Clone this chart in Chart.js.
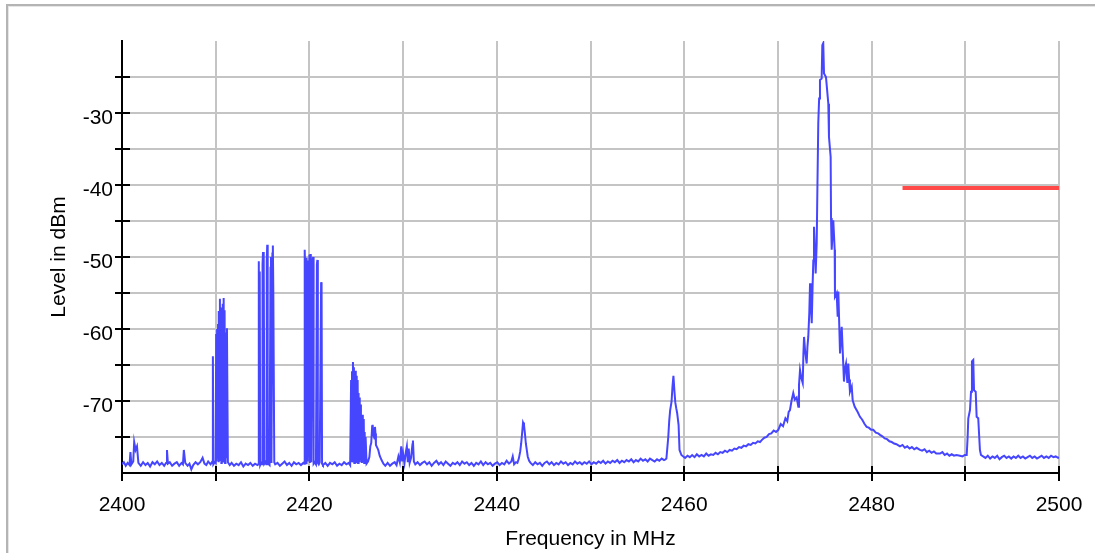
<!DOCTYPE html>
<html>
<head>
<meta charset="utf-8">
<script src="https://cdn.jsdelivr.net/npm/chart.js@4.4.1/dist/chart.umd.min.js"></script>
<style>
  html, body { margin: 0; padding: 0; background: #fff; overflow: hidden; }
  #frame { position: absolute; left: 6px; top: 4px; width: 1200px; height: 700px;
           border: 2px solid #b4b4b4; box-shadow: inset 1px 1px 0 #e6e6e6; }
  #wrap { position: absolute; left: 0; top: 0; width: 1095px; height: 553px; }
</style>
</head>
<body>
<div id="frame"></div>
<div id="wrap"><canvas id="c" width="1095" height="553"></canvas></div>
<script>
// spectrum trace, [frequency MHz, level dBm]
const floor2400 = [
  [2400.0,-78.8],[2400.2,-78.5],[2400.4,-79.0],[2400.6,-78.6],[2400.8,-78.9],[2400.9,-77.1],
  [2401.0,-78.8],[2401.2,-78.4],[2401.3,-75.7],[2401.45,-76.8],[2401.6,-76.3],[2401.75,-78.6],
  [2402.0,-79.0],[2402.25,-78.5],[2402.5,-78.9],[2402.75,-78.6],[2403.0,-79.1],[2403.25,-78.5],
  [2403.5,-78.8],[2403.75,-78.4],[2404.0,-78.9],[2404.25,-78.6],[2404.5,-79.0],[2404.7,-78.6],
  [2404.8,-76.8],[2404.9,-78.7],[2405.1,-78.5],[2405.35,-79.0],[2405.6,-78.7],[2405.85,-78.5],
  [2406.1,-79.0],[2406.35,-78.6],[2406.5,-78.8],[2406.6,-76.8],[2406.75,-78.6],[2407.0,-79.0],
  [2407.2,-78.7],[2407.4,-79.5],[2407.6,-78.9],[2407.85,-78.5],[2408.1,-78.8],[2408.35,-78.5],
  [2408.6,-77.9],[2408.8,-78.7],[2409.0,-78.9],[2409.2,-78.4],[2409.45,-78.8],[2409.6,-78.5]
];
const burst2410 = [
  [2409.65,-78.6],[2409.7,-63.8],[2409.75,-78.8],[2409.9,-78.5],[2410.0,-78.6],[2410.05,-60.7],
  [2410.1,-78.4],[2410.15,-60.0],[2410.2,-78.0],[2410.25,-59.3],[2410.3,-78.5],[2410.35,-57.5],
  [2410.4,-77.5],[2410.45,-55.8],[2410.5,-78.2],[2410.55,-57.0],[2410.6,-78.6],[2410.65,-58.2],
  [2410.7,-77.9],[2410.75,-56.5],[2410.8,-78.4],[2410.85,-55.7],[2410.9,-78.0],[2410.95,-57.4],
  [2411.0,-78.6],[2411.05,-60.5],[2411.1,-77.8],[2411.2,-59.9],[2411.3,-78.5],[2411.5,-78.9]
];
const floor2412 = [
  [2411.7,-78.6],[2411.95,-79.0],[2412.2,-78.7],[2412.45,-78.9],[2412.7,-78.5],[2412.95,-79.1],
  [2413.2,-78.7],[2413.45,-78.9],[2413.7,-78.6],[2413.95,-79.0],[2414.2,-78.7],[2414.45,-78.9]
];
const burst2415 = [
  [2414.55,-78.8],[2414.6,-50.6],[2414.65,-78.5],[2414.7,-52.0],[2414.75,-78.9],[2414.85,-78.6],
  [2414.95,-78.8],[2415.0,-51.0],[2415.05,-49.3],[2415.1,-78.6],[2415.15,-50.2],[2415.2,-78.7],
  [2415.3,-78.5],[2415.4,-78.8],[2415.45,-50.5],[2415.5,-48.3],[2415.55,-78.4],[2415.6,-78.7],
  [2415.75,-78.9],[2415.85,-51.5],[2415.9,-50.0],[2415.95,-78.6],[2416.05,-49.5],[2416.1,-48.4],
  [2416.15,-55.0],[2416.25,-78.5],[2416.35,-78.8]
];
const floor2417 = [
  [2416.6,-78.6],[2416.85,-79.0],[2417.1,-78.7],[2417.35,-78.4],[2417.6,-78.9],[2417.85,-78.6],
  [2418.1,-79.0],[2418.35,-78.5],[2418.6,-78.8],[2418.85,-78.6],[2419.1,-78.9],[2419.35,-78.6]
];
const burst2420 = [
  [2419.45,-78.7],[2419.5,-49.0],[2419.55,-52.0],[2419.6,-78.5],[2419.65,-50.1],[2419.7,-78.8],
  [2419.75,-51.5],[2419.8,-78.4],[2419.85,-50.5],[2419.9,-77.8],[2420.0,-49.7],[2420.05,-78.6],
  [2420.1,-49.6],[2420.15,-55.0],[2420.2,-78.5],[2420.3,-50.8],[2420.4,-50.0],[2420.45,-78.7],
  [2420.55,-78.5],[2420.7,-78.8],[2420.8,-51.0],[2420.85,-50.4],[2420.9,-78.6],[2421.0,-78.8],
  [2421.1,-78.5],[2421.25,-53.5],[2421.3,-54.0],[2421.35,-78.7],[2421.45,-78.9]
];
const floor2422 = [
  [2421.7,-78.6],[2421.95,-79.0],[2422.2,-78.6],[2422.45,-78.8],[2422.7,-78.5],[2422.95,-79.0],
  [2423.2,-78.7],[2423.45,-78.9],[2423.7,-78.5],[2423.95,-78.8],[2424.2,-78.6],[2424.35,-78.9]
];
const burst2425 = [
  [2424.45,-67.1],[2424.5,-78.5],[2424.55,-66.0],[2424.65,-64.6],[2424.7,-78.4],[2424.75,-65.3],
  [2424.8,-78.6],[2424.85,-66.1],[2424.9,-78.0],[2424.95,-65.8],[2425.0,-78.5],[2425.05,-66.5],
  [2425.1,-78.2],[2425.15,-67.1],[2425.2,-78.6],[2425.25,-68.9],[2425.3,-78.0],[2425.35,-69.5],
  [2425.4,-78.5],[2425.45,-70.5],[2425.5,-78.2],[2425.55,-71.9],[2425.6,-78.6],[2425.7,-71.9],
  [2425.75,-78.4],[2425.8,-72.5],[2425.85,-78.6],[2425.9,-74.3],[2425.95,-78.3],[2426.0,-75.0],
  [2426.1,-78.7]
];
const bump2427 = [
  [2426.25,-78.4],[2426.4,-77.8],[2426.5,-76.3],[2426.6,-75.8],[2426.7,-73.5],[2426.75,-73.3],
  [2426.85,-74.8],[2426.95,-75.2],[2427.0,-73.6],[2427.05,-74.5],[2427.1,-76.1],[2427.25,-76.5],
  [2427.35,-76.8],[2427.5,-77.6],[2427.7,-78.2],[2427.9,-78.7]
];
const floor2429 = [
  [2428.1,-79.0],[2428.35,-78.6],[2428.6,-79.0],[2428.85,-78.7],[2429.1,-78.5],[2429.3,-78.9],
  [2429.5,-77.7],[2429.65,-78.5],[2429.8,-76.3],[2429.9,-78.4],[2430.0,-77.3],[2430.15,-78.6],
  [2430.3,-77.0],[2430.4,-76.3],[2430.5,-78.5],[2430.6,-76.6],[2430.7,-78.6],[2430.85,-77.9],
  [2431.0,-76.0],[2431.05,-75.5],[2431.15,-78.4],[2431.3,-78.8]
];
const floor2436 = [
  [2431.55,-78.5],[2431.8,-78.9],[2432.05,-78.6],[2432.3,-78.4],[2432.55,-78.8],[2432.8,-78.5],
  [2433.05,-79.0],[2433.3,-78.6],[2433.55,-78.3],[2433.8,-78.8],[2434.05,-78.5],[2434.3,-78.9],
  [2434.55,-78.4],[2434.8,-78.7],[2435.05,-79.0],[2435.3,-78.6],[2435.55,-78.8],[2435.8,-78.5],
  [2436.05,-78.9],[2436.3,-78.4],[2436.55,-78.7],[2436.8,-78.5],[2437.05,-78.9],[2437.3,-78.6],
  [2437.55,-79.0],[2437.8,-78.6],[2438.05,-78.8],[2438.3,-78.4],[2438.55,-78.9],[2438.8,-78.5],
  [2439.05,-78.8],[2439.3,-78.6],[2439.55,-79.0],[2439.8,-78.7],[2440.05,-78.5],[2440.3,-78.9],
  [2440.55,-78.6],[2440.8,-78.8],[2441.05,-78.3],[2441.3,-78.7],[2441.55,-78.4],[2441.7,-77.7],
  [2441.85,-78.8],[2442.05,-78.5],[2442.2,-78.6]
];
const peak2443 = [
  [2442.35,-78.0],[2442.5,-77.0],[2442.6,-75.9],[2442.7,-74.5],[2442.8,-73.0],[2442.9,-73.3],
  [2443.0,-74.5],[2443.1,-75.9],[2443.2,-76.8],[2443.3,-77.7],[2443.45,-78.3]
];
const floor2450 = [
  [2443.6,-78.6],[2443.85,-78.9],[2444.1,-78.5],[2444.35,-78.8],[2444.6,-78.6],[2444.85,-79.0],
  [2445.1,-78.6],[2445.35,-78.4],[2445.6,-78.8],[2445.85,-78.5],[2446.1,-78.9],[2446.35,-78.6],
  [2446.6,-78.8],[2446.85,-78.4],[2447.1,-78.7],[2447.35,-78.5],[2447.6,-78.9],[2447.85,-78.6],
  [2448.1,-78.8],[2448.35,-78.4],[2448.6,-78.7],[2448.85,-78.5],[2449.1,-78.8],[2449.35,-78.5],
  [2449.6,-78.7],[2449.85,-78.4],[2450.1,-78.8],[2450.35,-78.5],[2450.6,-78.7],[2450.85,-78.4],
  [2451.1,-78.6],[2451.35,-78.3],[2451.6,-78.7],[2451.85,-78.4],[2452.1,-78.6],[2452.35,-78.3],
  [2452.6,-78.5],[2452.85,-78.2],[2453.1,-78.6],[2453.35,-78.3],[2453.6,-78.5],[2453.85,-78.2],
  [2454.1,-78.4],[2454.35,-78.1],[2454.6,-78.5],[2454.85,-78.2],[2455.1,-78.4],[2455.35,-78.0],
  [2455.6,-78.3],[2455.85,-78.1],[2456.1,-78.4],[2456.35,-78.0],[2456.6,-78.2],[2456.85,-78.4],
  [2457.1,-78.1],[2457.35,-78.3],[2457.6,-78.0],[2457.85,-78.2],[2458.0,-78.1]
];
const peak2459 = [
  [2458.1,-78.0],[2458.2,-76.5],[2458.3,-75.0],[2458.4,-72.8],[2458.5,-71.3],[2458.65,-70.1],
  [2458.75,-68.0],[2458.85,-66.5],[2458.95,-68.5],[2459.05,-70.2],[2459.15,-71.0],[2459.25,-71.7],
  [2459.4,-73.3],[2459.5,-76.8],[2459.7,-77.5],[2459.9,-77.7]
];
const skirtLeft = [
  [2460.1,-77.9],[2460.35,-77.6],[2460.6,-77.8],[2460.85,-77.5],[2461.1,-77.8],[2461.35,-77.4],
  [2461.6,-77.7],[2461.85,-77.5],[2462.1,-77.7],[2462.35,-77.3],[2462.6,-77.6],[2462.85,-77.4],
  [2463.1,-77.5],[2463.35,-77.2],[2463.6,-77.4],[2463.85,-77.1],[2464.1,-77.2],[2464.35,-76.9],
  [2464.6,-77.1],[2464.85,-76.8],[2465.1,-76.9],[2465.35,-76.6],[2465.6,-76.7],[2465.85,-76.4],
  [2466.1,-76.5],[2466.35,-76.2],[2466.6,-76.3],[2466.85,-76.0],[2467.1,-76.1],[2467.35,-75.8],
  [2467.6,-75.9],[2467.85,-75.6],[2468.09,-75.7]
];
const carrier2475 = [
  [2468.3,-75.4],[2468.55,-75.1],[2468.8,-75.0],[2469.05,-74.6],[2469.3,-74.5],[2469.55,-74.1],
  [2469.8,-74.3],[2470.04,-74.0],[2470.3,-73.2],[2470.55,-73.5],[2470.8,-72.4],[2471.0,-72.8],
  [2471.15,-71.5],[2471.29,-71.25],[2471.45,-70.0],[2471.64,-68.9],[2471.8,-69.8],[2472.0,-69.5],
  [2472.18,-70.8],[2472.25,-67.8],[2472.36,-65.7],[2472.5,-66.8],[2472.65,-67.5],[2472.72,-63.5],
  [2472.79,-61.1],[2472.9,-63.0],[2473.07,-64.8],[2473.15,-62.5],[2473.24,-61.1],[2473.35,-57.8],
  [2473.43,-53.65],[2473.52,-56.5],[2473.61,-59.2],[2473.71,-53.65],[2473.78,-50.5],[2473.85,-45.8],
  [2473.95,-49.0],[2474.03,-52.3],[2474.14,-48.1],[2474.22,-40.0],[2474.31,-31.4],[2474.4,-28.0],
  [2474.49,-25.4],[2474.67,-25.2],[2474.74,-20.6],[2474.84,-20.3],[2474.92,-24.5],[2475.13,-25.0],
  [2475.38,-28.7],[2475.45,-33.3],[2475.63,-36.1],[2475.67,-44.6],[2475.74,-49.0],[2475.91,-44.9],
  [2476.06,-49.0],[2476.09,-55.5],[2476.27,-55.0],[2476.38,-58.3],[2476.45,-54.8],[2476.63,-63.4],
  [2476.81,-59.7],[2476.9,-62.5],[2477.05,-67.3],[2477.15,-65.5],[2477.27,-64.8],[2477.41,-67.5],
  [2477.51,-64.8],[2477.6,-67.0],[2477.69,-68.7],[2477.88,-68.0],[2477.98,-69.9],[2478.2,-70.8],
  [2478.5,-71.5],[2478.76,-72.2],[2479.0,-72.6],[2479.25,-73.2],[2479.47,-73.6],[2479.7,-73.7],
  [2479.95,-74.0],[2480.18,-74.0],[2480.45,-74.4],[2480.7,-74.5],[2480.9,-74.7],[2481.15,-74.9],
  [2481.4,-75.2],[2481.65,-75.3],[2481.9,-75.6],[2482.15,-75.7],[2482.4,-75.9],[2482.65,-76.0],
  [2482.9,-76.2]
];
const skirtRight = [
  [2483.03,-76.3],[2483.3,-76.1],[2483.55,-76.5],[2483.8,-76.3],[2484.05,-76.6],[2484.3,-76.4],
  [2484.55,-76.7],[2484.8,-76.5],[2485.16,-76.8],[2485.4,-76.9],[2485.65,-76.7],[2485.9,-77.1],
  [2486.15,-76.9],[2486.4,-77.2],[2486.65,-77.0],[2486.9,-77.3],[2487.3,-77.3],[2487.55,-77.1],
  [2487.8,-77.5],[2488.05,-77.3],[2488.3,-77.6],[2488.55,-77.4],[2488.8,-77.6],[2489.05,-77.5],
  [2489.43,-77.6],[2489.7,-77.7],[2489.95,-77.5],[2490.15,-77.5]
];
const peak2491 = [
  [2490.25,-75.0],[2490.32,-72.4],[2490.5,-71.25],[2490.61,-68.7],[2490.71,-64.5],[2490.85,-64.3],
  [2490.93,-68.5],[2491.11,-68.7],[2491.21,-72.2],[2491.38,-72.4],[2491.56,-76.8],[2491.67,-77.5]
];
const floor2496 = [
  [2491.9,-77.7],[2492.15,-77.9],[2492.4,-77.6],[2492.65,-78.0],[2492.9,-77.7],[2493.15,-77.9],
  [2493.4,-77.6],[2493.65,-78.1],[2493.9,-77.8],[2494.15,-77.6],[2494.4,-77.9],[2494.65,-77.7],
  [2494.9,-78.0],[2495.15,-77.7],[2495.4,-77.9],[2495.65,-77.6],[2495.9,-77.9],[2496.15,-77.7],
  [2496.4,-78.0],[2496.65,-77.8],[2496.9,-77.6],[2497.15,-77.9],[2497.4,-77.7],[2497.65,-78.0],
  [2497.9,-77.8],[2498.15,-77.6],[2498.4,-77.9],[2498.65,-77.7],[2498.9,-77.9],[2499.15,-77.6],
  [2499.4,-77.8],[2499.65,-77.7],[2499.9,-77.9],[2500.0,-77.8]
];

// red limit segment
const limitFreqs = [2483.3, 2500];
const limitLevels = [-40.4, -40.4];

const xMin = 2400, xMax = 2500, xStep = 10;
const yMin = -80, yMax = -20, yStep = 5;

const trace = [floor2400, burst2410, floor2412, burst2415, floor2417, burst2420, floor2422,
  burst2425, bump2427, floor2429, floor2436, peak2443, floor2450, peak2459, skirtLeft,
  carrier2475, skirtRight, peak2491, floor2496]
  .flat().map(([x, y]) => ({ x, y }));
const limit = limitFreqs.map((x, i) => ({ x, y: limitLevels[i] }));

const FONT = { family: '"Liberation Sans", Arial, sans-serif', size: 21 };

// tick marks that cross the axis line on both sides
const crossTicks = {
  id: 'crossTicks',
  afterDraw(chart) {
    const { ctx, chartArea: a, scales: { x, y } } = chart;
    ctx.save();
    ctx.strokeStyle = '#000';
    ctx.lineWidth = 2;
    ctx.beginPath();
    x.ticks.forEach(t => {
      const px = Math.round(x.getPixelForValue(t.value));
      ctx.moveTo(px, a.bottom - 7);
      ctx.lineTo(px, a.bottom + 8);
    });
    y.ticks.forEach(t => {
      if (t.value <= yMin || t.value >= yMax) return;
      const py = Math.round(y.getPixelForValue(t.value));
      ctx.moveTo(a.left - 7, py);
      ctx.lineTo(a.left + 8, py);
    });
    ctx.stroke();
    ctx.restore();
  }
};

new Chart(document.getElementById('c'), {
  type: 'line',
  data: {
    datasets: [
      { data: trace, borderColor: 'rgb(70,70,255)', borderWidth: 2, pointRadius: 0, tension: 0 },
      { data: limit, borderColor: 'rgb(255,72,72)', borderWidth: 4, pointRadius: 0, tension: 0 }
    ]
  },
  options: {
    responsive: false,
    animation: false,
    devicePixelRatio: 1,
    layout: { padding: { left: 0, top: 41, right: 36, bottom: 0 } },
    plugins: { legend: { display: false }, tooltip: { enabled: false } },
    scales: {
      x: {
        type: 'linear', min: xMin, max: xMax,
        afterFit: s => { s.height = 80; },
        ticks: {
          stepSize: xStep, autoSkip: false, maxRotation: 0, padding: 0,
          color: '#000', font: FONT,
          callback: v => (v % 20 === 0 ? String(v) : '')
        },
        grid: {
          drawTicks: true, tickLength: 20, tickColor: 'rgba(0,0,0,0)', lineWidth: 2,
          color: c => (c.tick && c.tick.value === xMin ? 'rgba(0,0,0,0)' : '#c4c4c4')
        },
        border: { color: '#000', width: 2 },
        title: { display: true, text: 'Frequency in MHz', color: '#000', font: FONT, padding: { bottom: 1 } }
      },
      y: {
        min: yMin, max: yMax,
        afterFit: s => { s.width = 122; },
        ticks: {
          stepSize: yStep, autoSkip: false, padding: 9, labelOffset: 5,
          color: '#000', font: FONT,
          callback: v => (v % 10 === 0 && v > yMin && v < yMax ? String(v) : '')
        },
        grid: {
          drawTicks: false, lineWidth: 2,
          color: c => (c.tick && (c.tick.value === yMin || c.tick.value === yMax) ? 'rgba(0,0,0,0)' : '#c4c4c4')
        },
        border: { color: '#000', width: 2 },
        title: { display: true, text: 'Level in dBm', color: '#000', font: FONT, padding: { top: 47 } }
      }
    }
  },
  plugins: [crossTicks]
});
</script>
</body>
</html>
